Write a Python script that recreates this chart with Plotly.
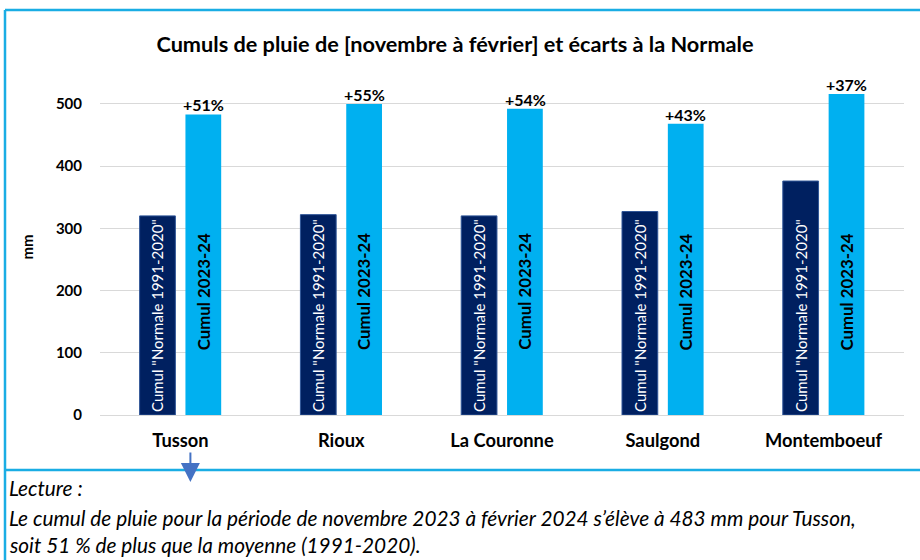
import plotly.graph_objects as go

stations = ["Tusson", "Rioux", "La Couronne", "Saulgond", "Montemboeuf"]
normale = [320, 322, 320, 327, 376]
cumul = [483, 500, 492, 468, 516]
ecarts = ["+51%", "+55%", "+54%", "+43%", "+37%"]
y_ticks = [0, 100, 200, 300, 400, 500]

title = "Cumuls de pluie de [novembre à février] et écarts à la Normale"
label_normale = 'Cumul "Normale 1991-2020"'
label_cumul = "Cumul 2023-24"
lecture = [
    "Lecture :",
    "Le cumul de pluie pour la période de novembre 2023 à février 2024 s’élève à 483 mm pour Tusson,",
    "soit 51 % de plus que la moyenne (1991-2020).",
]

FONT = "Lato"
W, H = 920, 560
ML, MR, MT, MB = 100, 16, 79, 145
PW, PH = W - ML - MR, H - MT - MB


def px_x(x):
    return (x - ML) / PW


def px_y(y):
    return (H - MB - y) / PH


fig = go.Figure()
fig.add_trace(go.Bar(
    x=stations, y=normale, name=label_normale,
    marker=dict(color="#002060", line=dict(color="#2F5597", width=1)),
    text=[label_normale] * len(stations), textposition="inside",
    textangle=-90, insidetextanchor="start",
    textfont=dict(family=FONT, size=15, color="white"),
    cliponaxis=False,
))
fig.add_trace(go.Bar(
    x=stations, y=cumul, name=label_cumul,
    marker=dict(color="#00B0F0", line=dict(width=0)),
    cliponaxis=False,
))

# vertical label on the cumul bars
for s in stations:
    fig.add_annotation(x=s, y=198, text=label_cumul, textangle=-90,
                       showarrow=False, xshift=23,
                       font=dict(family=FONT, size=16.8, color="black", weight="bold"))
# percentages above cumul bars
for s, v, e in zip(stations, cumul, ecarts):
    fig.add_annotation(x=s, y=v, text=e, showarrow=False,
                       xshift=23, yanchor="bottom", yshift=-2,
                       font=dict(family=FONT, size=16, color="black", weight="bold"))

# arrow under Tusson
fig.add_annotation(x=stations[0], y=px_y(482), yref="paper", ax=0, ay=-31,
                   xshift=10, text="", showarrow=True, arrowhead=2, arrowsize=1.9,
                   arrowwidth=2, arrowcolor="#4472C4")

# Lecture text
for i, line in enumerate(lecture):
    fig.add_annotation(x=px_x(7), y=px_y([488, 517, 544][i]), xref="paper", yref="paper",
                       xanchor="left", yanchor="middle", showarrow=False,
                       text="<i>" + line + "</i>",
                       font=dict(family=FONT, size=20.8, color="black"))

border = "#1AADE4"
fig.add_shape(type="line", xref="paper", yref="paper", x0=px_x(5), x1=px_x(921),
              y0=px_y(10), y1=px_y(10), line=dict(color=border, width=2.5))
fig.add_shape(type="line", xref="paper", yref="paper", x0=px_x(5), x1=px_x(5),
              y0=px_y(10), y1=px_y(561), line=dict(color=border, width=2.5))
fig.add_shape(type="line", xref="paper", yref="paper", x0=px_x(5), x1=px_x(921),
              y0=px_y(470), y1=px_y(470), line=dict(color=border, width=2.5))

fig.update_layout(
    width=W, height=H,
    margin=dict(l=ML, r=MR, t=MT, b=MB),
    paper_bgcolor="white", plot_bgcolor="white",
    barmode="group", bargap=0.43, bargroupgap=0.22,
    showlegend=False,
    font=dict(family=FONT, color="black"),
    title=dict(text=title, x=455 / W, xanchor="center",
               y=1 - 44 / H, yanchor="middle",
               font=dict(family=FONT, size=21.7, color="black", weight="bold")),
    xaxis=dict(showgrid=False, showline=False, ticks="", ticklabelstandoff=13,
               tickfont=dict(family=FONT, size=18.3, color="black", weight="bold")),
    yaxis=dict(range=[0, 540], tickvals=y_ticks, showgrid=True, gridcolor="#D9D9D9",
               gridwidth=1, zeroline=True, zerolinecolor="#D9D9D9", zerolinewidth=1,
               showline=False, ticks="", ticklabelstandoff=17,
               tickfont=dict(family=FONT, size=15, color="black", weight="bold"),
               title=dict(text="mm", standoff=18,
                          font=dict(family=FONT, size=15, color="black", weight="bold"))),
)

fig.write_html("out.html", config={"displayModeBar": False},
               post_script="document.body.style.margin='0';")
